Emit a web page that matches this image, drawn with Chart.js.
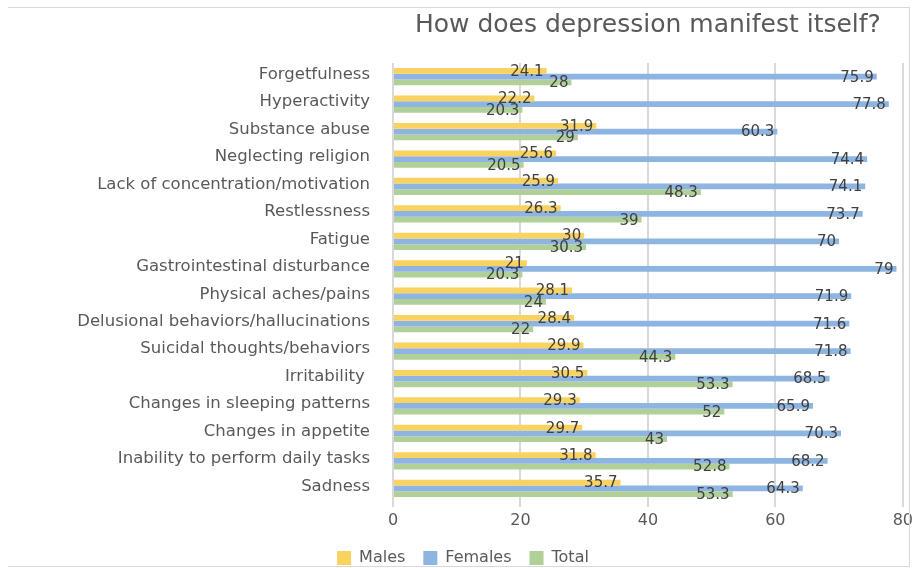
<!DOCTYPE html>
<html lang="en">
<head>
  <meta charset="UTF-8" />
  <title>How does depression manifest itself?</title>
  <script src="https://cdn.jsdelivr.net/npm/chart.js"></script>
  <style>
    body {
      margin: 0;
      background: #fff;
      width: 917px;
      height: 568px;
      overflow: hidden;
      position: relative;
    }
    #chart-box {
      position: absolute;
      left: 0;
      top: 0;
      width: 917px;
      height: 576px;
    }
    .frame {
      position: absolute;
      left: 8px;
      top: 7px;
      width: 901px;
      height: 558px;
      border: 1px solid #d9d9d9;
      border-left: none;
      pointer-events: none;
    }
  </style>
</head>
<body>
  <div id="chart-box"><canvas id="symptomChart"></canvas></div>
  <div class="frame"></div>

  <script>
    const symptoms = [
      "Forgetfulness",
      "Hyperactivity",
      "Substance abuse",
      "Neglecting religion",
      "Lack of concentration/motivation",
      "Restlessness",
      "Fatigue",
      "Gastrointestinal disturbance",
      "Physical aches/pains",
      "Delusional behaviors/hallucinations",
      "Suicidal thoughts/behaviors",
      "Irritability ",
      "Changes in sleeping patterns",
      "Changes in appetite",
      "Inability to perform daily tasks",
      "Sadness"
    ];
    const males   = [24.1, 22.2, 31.9, 25.6, 25.9, 26.3, 30, 21, 28.1, 28.4, 29.9, 30.5, 29.3, 29.7, 31.8, 35.7];
    const females = [75.9, 77.8, 60.3, 74.4, 74.1, 73.7, 70, 79, 71.9, 71.6, 71.8, 68.5, 65.9, 70.3, 68.2, 64.3];
    const totals  = [28, 20.3, 29, 20.5, 48.3, 39, 30.3, 20.3, 24, 22, 44.3, 53.3, 52, 43, 52.8, 53.3];
    const xTicks  = [0, 20, 40, 60, 80];

    const FONT = "'DejaVu Sans', sans-serif";

    // value labels at the end of each bar (no datalabels plugin here)
    const valueLabels = {
      id: "valueLabels",
      afterDatasetsDraw(chart) {
        const ctx = chart.ctx;
        ctx.save();
        ctx.font = "15px " + FONT;
        ctx.fillStyle = "#404040";
        ctx.textAlign = "right";
        ctx.textBaseline = "middle";
        chart.data.datasets.forEach((ds, i) => {
          chart.getDatasetMeta(i).data.forEach((bar, j) => {
            ctx.fillText(String(ds.data[j]), bar.x - 3, bar.y + 1);
          });
        });
        ctx.restore();
      }
    };

    // title centred over the plot area, like the original
    const plotTitle = {
      id: "plotTitle",
      afterLayout(chart) {
        // legend sits a bit right of the canvas centre in the original
        chart.legend.left += 22;
      },
      afterDraw(chart) {
        const a = chart.chartArea;
        const ctx = chart.ctx;
        ctx.save();
        ctx.font = "25px " + FONT;
        ctx.fillStyle = "#595959";
        ctx.textAlign = "center";
        ctx.textBaseline = "middle";
        ctx.fillText("How does depression manifest itself?", (a.left + a.right) / 2, 25);
        ctx.restore();
      }
    };

    const ctx = document.getElementById("symptomChart").getContext("2d");
    new Chart(ctx, {
      type: "bar",
      data: {
        labels: symptoms,
        datasets: [
          { label: "Males", data: males, backgroundColor: "#FAD25F" },
          { label: "Females", data: females, backgroundColor: "#8EB4E2" },
          { label: "Total", data: totals, backgroundColor: "#B0D097" }
        ]
      },
      options: {
        indexAxis: "y",
        responsive: true,
        maintainAspectRatio: false,
        animation: false,
        categoryPercentage: 0.63,
        barPercentage: 1,
        layout: { padding: { top: 63, right: 13, bottom: 0, left: 0 } },
        scales: {
          x: {
            min: 0,
            max: 80,
            afterBuildTicks(scale) {
              scale.ticks = xTicks.map(v => ({ value: v }));
            },
            afterFit(scale) { scale.height = 30; },
            grid: { color: "#d9d9d9", lineWidth: 2, tickLength: 5 },
            border: { display: false },
            ticks: { color: "#595959", font: { family: FONT, size: 16 }, padding: 4 }
          },
          y: {
            afterFit(scale) { scale.width = 393; },
            grid: { display: false },
            border: { display: false },
            ticks: { color: "#595959", font: { family: FONT, size: 16.5 }, padding: 15, labelOffset: -2, autoSkip: false }
          }
        },
        plugins: {
          legend: {
            position: "bottom",
            labels: {
              color: "#595959",
              font: { family: FONT, size: 16 },
              boxWidth: 14,
              boxHeight: 14,
              padding: 18
            }
          },
          tooltip: { enabled: false }
        }
      },
      plugins: [valueLabels, plotTitle]
    });
  </script>
</body>
</html>
